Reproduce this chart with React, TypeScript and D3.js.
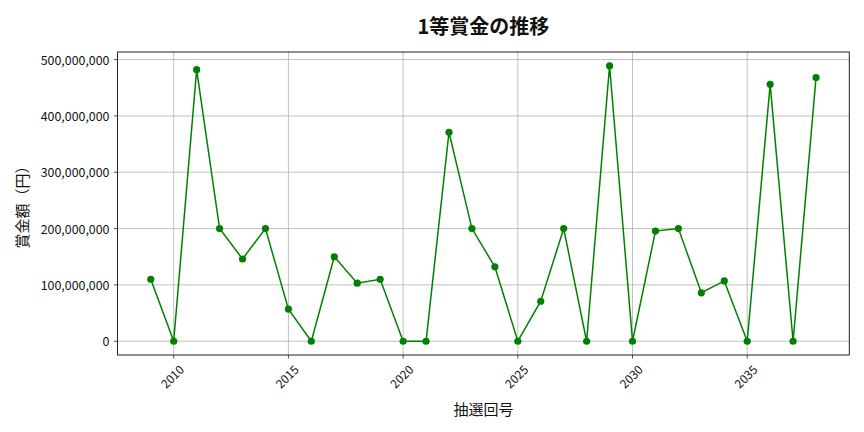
import React from "react";
import * as d3 from "d3";

const years = [2009,2010,2011,2012,2013,2014,2015,2016,2017,2018,2019,2020,2021,2022,2023,2024,2025,2026,2027,2028,2029,2030,2031,2032,2033,2034,2035,2036,2037,2038];
const prizes = [110000000,0,482000000,200000000,146000000,200000000,57000000,0,150000000,103000000,110000000,0,0,371000000,200000000,132000000,0,71000000,200000000,0,489000000,0,195500000,200000000,86000000,107000000,0,456000000,0,468000000];
const xTicks = [2010,2015,2020,2025,2030,2035];
const yTicks = [0,100000000,200000000,300000000,400000000,500000000];
const title = "1等賞金の推移";
const xLabel = "抽選回号";
const yLabel = "賞金額（円）";

const W = 864, H = 432;
const L = 117.5, R = 849.3, T = 52, B = 355;
const FONT = "'Noto Sans CJK JP', 'Noto Sans', sans-serif";

export default function App() {
  const xMin = d3.min(years)!, xMax = d3.max(years)!;
  const xPad = (xMax - xMin) * 0.05;
  const x = d3.scaleLinear().domain([xMin - xPad, xMax + xPad]).range([L, R]);
  const yMax = d3.max(prizes)!;
  const yPad = yMax * 0.05;
  const y = d3.scaleLinear().domain([-yPad, yMax + yPad]).range([B, T]);
  const line = d3.line<number>().x((_, i) => x(years[i])).y((d) => y(d));
  const fmt = d3.format(",");

  return (
    <svg width={W} height={H} style={{ position: "absolute", left: 0, top: 0 }} fontFamily={FONT}>
      <rect x={0} y={0} width={W} height={H} fill="#fff" />
      {xTicks.map((t) => (
        <line key={"gx" + t} x1={x(t)} x2={x(t)} y1={T} y2={B} stroke="#b0b0b0" strokeWidth={0.8} />
      ))}
      {yTicks.map((t) => (
        <line key={"gy" + t} x1={L} x2={R} y1={y(t)} y2={y(t)} stroke="#b0b0b0" strokeWidth={0.8} />
      ))}
      <path d={line(prizes)!} fill="none" stroke="#008000" strokeWidth={1.5} />
      {prizes.map((v, i) => (
        <circle key={"p" + i} cx={x(years[i])} cy={y(v)} r={3.6} fill="#008000" />
      ))}
      <rect x={L} y={T} width={R - L} height={B - T} fill="none" stroke="#222" strokeWidth={1} />
      {xTicks.map((t) => (
        <g key={"tx" + t}>
          <line x1={x(t)} x2={x(t)} y1={B} y2={B + 3.5} stroke="#222" strokeWidth={0.8} />
          <text
            transform={`translate(${x(t) - 2},${B + 21}) rotate(-45)`}
            textAnchor="middle"
            dominantBaseline="central"
            fontSize={12}
            fill="#111"
          >
            {t}
          </text>
        </g>
      ))}
      {yTicks.map((t) => (
        <g key={"ty" + t}>
          <line x1={L - 3.5} x2={L} y1={y(t)} y2={y(t)} stroke="#222" strokeWidth={0.8} />
          <text x={L - 8} y={y(t)} textAnchor="end" dominantBaseline="central" fontSize={12.4} fill="#111">
            {fmt(t)}
          </text>
        </g>
      ))}
      <text x={(L + R) / 2} y={25} textAnchor="middle" dominantBaseline="central" fontSize={20} fontWeight="bold" fill="#111">
        {title}
      </text>
      <text x={(L + R) / 2} y={408} textAnchor="middle" dominantBaseline="central" fontSize={15} fill="#111">
        {xLabel}
      </text>
      <text
        transform={`translate(21,${(T + B) / 2}) rotate(-90)`}
        textAnchor="middle"
        dominantBaseline="central"
        fontSize={15}
        fill="#111"
      >
        {yLabel}
      </text>
    </svg>
  );
}
